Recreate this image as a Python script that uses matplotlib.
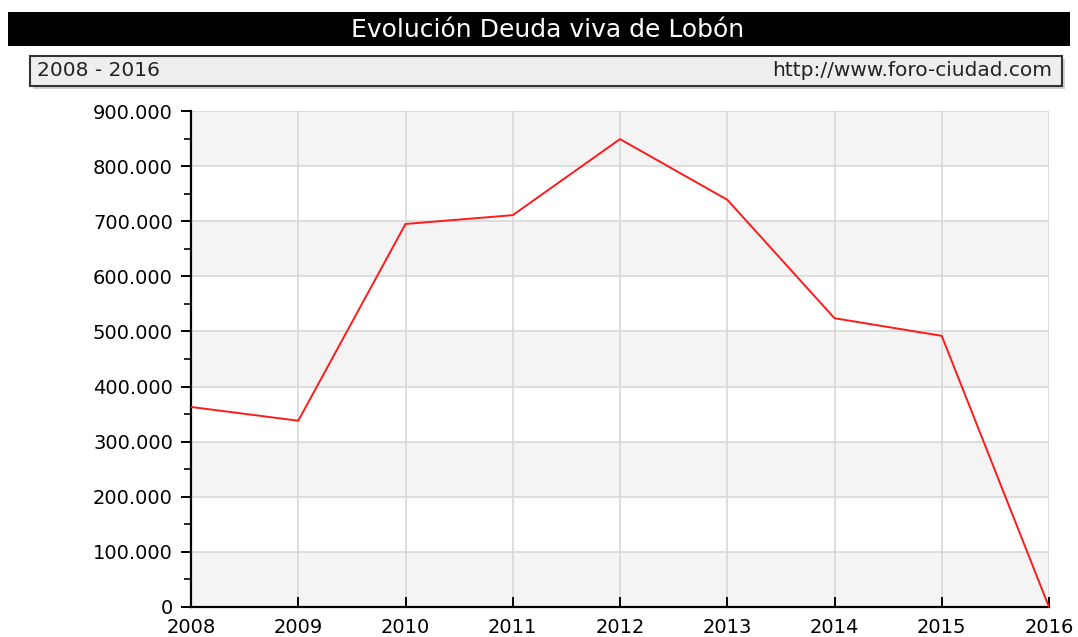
import matplotlib.pyplot as plt
from matplotlib.patches import Rectangle
from matplotlib.ticker import FuncFormatter, MultipleLocator

# Datos
years = [2008, 2009, 2010, 2011, 2012, 2013, 2014, 2015, 2016]
deuda = [363000, 338000, 695000, 711000, 849000, 739000, 524000, 492000, 0]

title = 'Evolución Deuda viva de Lobón'
periodo = '2008 - 2016'
web = 'http://www.foro-ciudad.com'

fig = plt.figure(figsize=(10.78, 6.37), dpi=100)
W, H = 1078, 637

def fx(px):
    return px / W

def fy(py):
    return 1 - py / H

# Title bar
fig.patches.append(Rectangle((fx(8), fy(46)), fx(1070) - fx(8), fy(12) - fy(46),
                             transform=fig.transFigure, facecolor='black', edgecolor='none'))
fig.text(fx(548), fy(30), title, color='white', fontsize=18, ha='center', va='center')

# Subtitle box with shadow
fig.patches.append(Rectangle((fx(33), fy(89)), fx(1065) - fx(33), fy(59) - fy(89),
                             transform=fig.transFigure, facecolor='#d0d0d0', edgecolor='none'))
fig.patches.append(Rectangle((fx(30), fy(86)), fx(1062) - fx(30), fy(56) - fy(86),
                             transform=fig.transFigure, facecolor='#eeeeee', edgecolor='#333333',
                             linewidth=1.5))
fig.text(fx(37), fy(71), periodo, color='#222222', fontsize=14.5, ha='left', va='center')
fig.text(fx(1052), fy(71), web, color='#222222', fontsize=14.5, ha='right', va='center')

# Plot area
ax = fig.add_axes([fx(191), fy(607), fx(1049) - fx(191), fy(111) - fy(607)])
ax.set_xlim(years[0], years[-1])
ax.set_ylim(0, 900000)

# alternating bands
for lo in range(0, 900000, 200000):
    ax.axhspan(lo, lo + 100000, facecolor='#f4f4f4', edgecolor='none', zorder=0)

ax.plot(years, deuda, color='#ff1a1a', linewidth=1.4, zorder=3)

ax.yaxis.set_major_locator(MultipleLocator(100000))
ax.yaxis.set_minor_locator(MultipleLocator(50000))
ax.set_xticks(years)
ax.yaxis.set_major_formatter(FuncFormatter(lambda v, p: '0' if v == 0 else f'{int(v):,}'.replace(',', '.')))
ax.xaxis.set_major_formatter(FuncFormatter(lambda v, p: str(int(v))))

ax.grid(True, which='major', color='#d8d8d8', linewidth=1.2, zorder=1)
ax.set_axisbelow(True)

for s in ['top', 'right']:
    ax.spines[s].set_visible(False)
for s in ['left', 'bottom']:
    ax.spines[s].set_color('black')
    ax.spines[s].set_linewidth(1.6)

ax.tick_params(axis='y', which='major', direction='out', length=7, width=1.4,
               labelsize=14, colors='black', pad=6)
ax.tick_params(axis='y', which='minor', direction='out', length=5, width=1.2)
ax.tick_params(axis='x', which='major', direction='in', length=7, width=1.4,
               labelsize=14, colors='black', pad=8)

fig.savefig('out.png', dpi=100)
